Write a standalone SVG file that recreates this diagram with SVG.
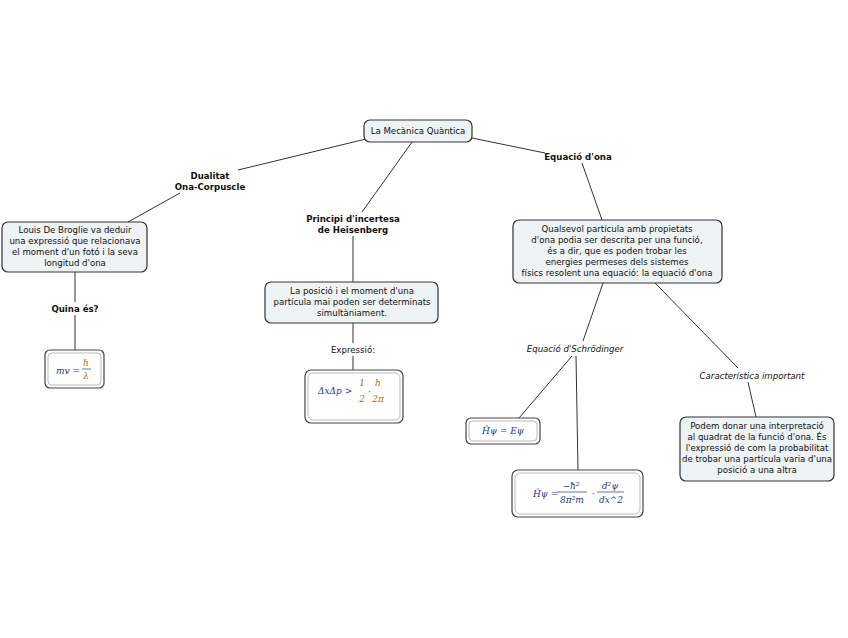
<svg xmlns="http://www.w3.org/2000/svg" width="848" height="638" viewBox="0 0 848 638">
<style>
.box{fill:#eef3f5;stroke:#333;stroke-width:1.2}
.fo{fill:#fff;stroke:#444;stroke-width:1.2}
.fi{fill:none;stroke:#aaa;stroke-width:0.8}
.t{font-family:"DejaVu Sans",Verdana,sans-serif;font-size:8.6px;fill:#111;text-anchor:middle}
.b{font-weight:bold}
.i{font-style:italic}
.m{font-family:"DejaVu Serif","Liberation Serif",serif;font-size:9px;font-style:italic;fill:#1a3a8a}
.mo{fill:#b06a10}
.conn line{stroke:#333;stroke-width:1}
</style>
<rect width="848" height="638" fill="#fff"/>
<g class="conn">
<line x1="366" y1="139" x2="238" y2="170"/>
<line x1="180" y1="193" x2="128" y2="222"/>
<line x1="412" y1="142" x2="362" y2="212"/>
<line x1="353" y1="236" x2="353" y2="282"/>
<line x1="472" y1="138" x2="545" y2="153"/>
<line x1="582" y1="163" x2="602" y2="220"/>
<line x1="75" y1="272" x2="75" y2="302"/>
<line x1="75" y1="315" x2="75" y2="350"/>
<line x1="353" y1="323" x2="353" y2="343"/>
<line x1="353" y1="356" x2="353" y2="370"/>
<line x1="603" y1="283" x2="583" y2="341"/>
<line x1="655" y1="283" x2="738" y2="368"/>
<line x1="572" y1="356" x2="519" y2="418"/>
<line x1="576" y1="356" x2="578" y2="470"/>
<line x1="748" y1="382" x2="756" y2="417"/>
</g>
<g id="root">
<rect class="box" x="364" y="120" width="108" height="22" rx="6"/>
<text class="t" x="418" y="134">La Mecànica Quàntica</text>
</g>
<g id="dualitat">
<text class="t b" x="210" y="179">Dualitat</text>
<text class="t b" x="210" y="190">Ona-Corpuscle</text>
</g>
<g id="louis">
<rect class="box" x="2" y="222" width="145" height="50" rx="6"/>
<text class="t" x="75" y="233">Louis De Broglie va deduir</text>
<text class="t" x="75" y="244">una expressió que relacionava</text>
<text class="t" x="75" y="255">el moment d'un fotó i la seva</text>
<text class="t" x="75" y="266">longitud d'ona</text>
</g>
<g id="quina">
<text class="t b" x="75" y="312">Quina és?</text>
</g>
<g id="f1">
<rect class="fo" x="45" y="350" width="59" height="38" rx="5"/>
<rect class="fi" x="48" y="353" width="53" height="32" rx="4"/>
<text class="m" x="56" y="374">mv =</text>
<text class="m mo" x="86" y="366" text-anchor="middle">h</text>
<line x1="82" y1="369" x2="91" y2="369" stroke="#1a3a8a" stroke-width="0.7"/>
<text class="m mo" x="86" y="379" text-anchor="middle">λ</text>
</g>
<g id="principi">
<text class="t b" x="353" y="222">Principi d'incertesa</text>
<text class="t b" x="353" y="233">de Heisenberg</text>
</g>
<g id="posicio">
<rect class="box" x="265" y="282" width="173" height="41" rx="6"/>
<text class="t" x="352" y="294">La posició i el moment d'una</text>
<text class="t" x="352" y="305">partícula mai poden ser determinats</text>
<text class="t" x="352" y="316">simultàniament.</text>
</g>
<g id="expressio">
<text class="t" x="353" y="353">Expressió:</text>
</g>
<g id="f2">
<rect class="fo" x="305" y="370" width="98" height="53" rx="6"/>
<rect class="fi" x="308" y="373" width="92" height="47" rx="5"/>
<text class="m" x="318" y="394">ΔxΔp &gt;</text>
<text class="m mo" x="362" y="386" text-anchor="middle">1</text>
<text class="m mo" x="362" y="402" text-anchor="middle">2</text>
<text class="m" x="368" y="395">·</text>
<text class="m mo" x="378" y="386" text-anchor="middle">h</text>
<text class="m mo" x="378" y="402" text-anchor="middle">2π</text>
</g>
<g id="equacio">
<text class="t b" x="578" y="160">Equació d'ona</text>
</g>
<g id="qualsevol">
<rect class="box" x="513" y="220" width="209" height="63" rx="6"/>
<text class="t" x="617" y="232">Qualsevol partícula amb propietats</text>
<text class="t" x="617" y="243">d'ona podia ser descrita per una funció,</text>
<text class="t" x="617" y="254">és a dir, que es poden trobar les</text>
<text class="t" x="617" y="265">energies permeses dels sistemes</text>
<text class="t" x="617" y="276">físics resolent una equació: la equació d'ona</text>
</g>
<g id="schrodinger">
<text class="t i" x="575" y="352">Equació d'Schrödinger</text>
</g>
<g id="f3">
<rect class="fo" x="466" y="418" width="74" height="26" rx="5"/>
<rect class="fi" x="469" y="421" width="68" height="20" rx="4"/>
<text class="m" x="503" y="434" text-anchor="middle">Ĥψ = Eψ</text>
</g>
<g id="f4">
<rect class="fo" x="512" y="470" width="131" height="47" rx="6"/>
<rect class="fi" x="515" y="473" width="125" height="41" rx="5"/>
<text class="m" x="533" y="497">Ĥψ =</text>
<text class="m" x="571" y="489" text-anchor="middle">−ħ²</text>
<line x1="557" y1="492" x2="587" y2="492" stroke="#1a3a8a" stroke-width="0.7"/>
<text class="m" x="572" y="503" text-anchor="middle">8π²m</text>
<text class="m" x="592" y="497">·</text>
<text class="m" x="610" y="489" text-anchor="middle">d²ψ</text>
<line x1="597" y1="492" x2="624" y2="492" stroke="#1a3a8a" stroke-width="0.7"/>
<text class="m" x="611" y="503" text-anchor="middle">dx^2</text>
</g>
<g id="caracteristica">
<text class="t i" x="752" y="379">Característica important</text>
</g>
<g id="podem">
<rect class="box" x="680" y="417" width="154" height="64" rx="6"/>
<text class="t" x="757" y="429">Podem donar una interpretació</text>
<text class="t" x="757" y="440">al quadrat de la funció d'ona. És</text>
<text class="t" x="757" y="451">l'expressió de com la probabilitat</text>
<text class="t" x="757" y="462">de trobar una partícula varia d'una</text>
<text class="t" x="757" y="473">posició a una altra</text>
</g>
</svg>
